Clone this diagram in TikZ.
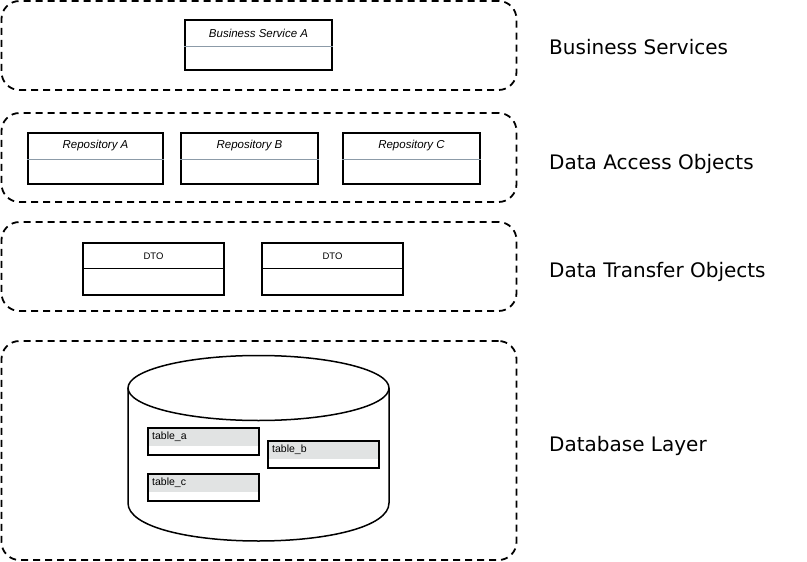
\documentclass[tikz,border=0pt]{standalone}
\usepackage{fontspec}
\setmainfont{Liberation Sans}
\newfontfamily\labelfont{DejaVu Sans}
\definecolor{divgray}{HTML}{8C9BA8}
\definecolor{tablegray}{HTML}{E1E3E3}
\tikzset{
  layer/.style={draw, line width=1.8pt, dash pattern=on 7pt off 5pt, rounded corners=18pt, inner sep=0pt},
  umlbox/.style={draw, line width=1.8pt, fill=white, inner sep=0pt},
  boxtext/.style={font=\fontsize{11.5}{13}\selectfont\itshape, inner sep=0pt},
  dtotext/.style={font=\fontsize{9.5}{11}\selectfont, inner sep=0pt},
  layerlabel/.style={font=\labelfont\fontsize{20}{22}\selectfont, anchor=base west, inner sep=0pt},
  tablebox/.style={draw, line width=1.8pt, inner sep=0pt, minimum width=111pt, minimum height=27pt,
     path picture={\fill[tablegray] (path picture bounding box.north west) rectangle ([yshift=-18pt]path picture bounding box.north east);}},
  tabletext/.style={font=\fontsize{10.5}{12}\selectfont, anchor=west, inner sep=0pt},
  divline/.style={divgray, line width=1pt},
  dtodiv/.style={black, line width=1pt},
}
\begin{document}
\begin{tikzpicture}[x=1pt,y=-1pt]
\useasboundingbox (0,0) rectangle (807,562);
% layers
\node[layer, minimum width=515pt, minimum height=89pt] (L1) at (259,45.5) {};
\node[layer, minimum width=515pt, minimum height=89pt] (L2) at (259,157.5) {};
\node[layer, minimum width=515pt, minimum height=89pt] (L3) at (259,266.5) {};
\node[layer, minimum width=515pt, minimum height=219pt] (L4) at (259,450.5) {};
% business service
\node[umlbox, minimum width=147pt, minimum height=50pt] (bsa) at (258.5,45) {};
\draw[divline] (bsa.west |- 0,46) -- (bsa.east |- 0,46);
\node[boxtext] (bsat) at (258.5,33) {Business Service A};
% repositories
\node[umlbox, minimum width=135pt, minimum height=51pt] (ra) at (95.5,158.5) {};
\node[umlbox, minimum width=137pt, minimum height=51pt] (rb) at (249.5,158.5) {};
\node[umlbox, minimum width=137pt, minimum height=51pt] (rc) at (411.5,158.5) {};
\draw[divline] (ra.west |- 0,159) -- (ra.east |- 0,159);
\draw[divline] (rb.west |- 0,159) -- (rb.east |- 0,159);
\draw[divline] (rc.west |- 0,159) -- (rc.east |- 0,159);
\node[boxtext] (rat) at (95.5,146) {Repository A};
\node[boxtext] (rbt) at (249.5,146) {Repository B};
\node[boxtext] (rct) at (411.5,146) {Repository C};
% DTOs
\node[umlbox, minimum width=141pt, minimum height=52pt] (d1) at (153.5,269) {};
\node[umlbox, minimum width=141pt, minimum height=52pt] (d2) at (332.5,269) {};
\draw[dtodiv] (d1.west |- 0,268) -- (d1.east |- 0,268);
\draw[dtodiv] (d2.west |- 0,268) -- (d2.east |- 0,268);
\node[dtotext] (d1t) at (153.5,256) {DTO};
\node[dtotext] (d2t) at (332.5,256) {DTO};
% cylinder
\draw[line width=1.5pt, fill=white] (128,388) -- (128,503)
  .. controls (128,527) and (190,541) .. (258.5,541)
  .. controls (327,541) and (389,527) .. (389,503) -- (389,388);
\draw[line width=1.5pt, fill=white] (258.5,388) ellipse [x radius=130.5, y radius=32.5];
% tables
\node[tablebox] (ta) at (203.5,441.5) {};
\node[tablebox] (tb) at (323.5,454.5) {};
\node[tablebox] (tc) at (203.5,487.5) {};
\node[tabletext] (tat) at (152,437) {table\_a};
\node[tabletext] (tbt) at (272,450) {table\_b};
\node[tabletext] (tct) at (152,483) {table\_c};
% layer labels
\node[layerlabel] (lab1) at (549,54) {Business Services};
\node[layerlabel] (lab2) at (549,169) {Data Access Objects};
\node[layerlabel] (lab3) at (549,277) {Data Transfer Objects};
\node[layerlabel] (lab4) at (549,451) {Database Layer};
\end{tikzpicture}
\end{document}
